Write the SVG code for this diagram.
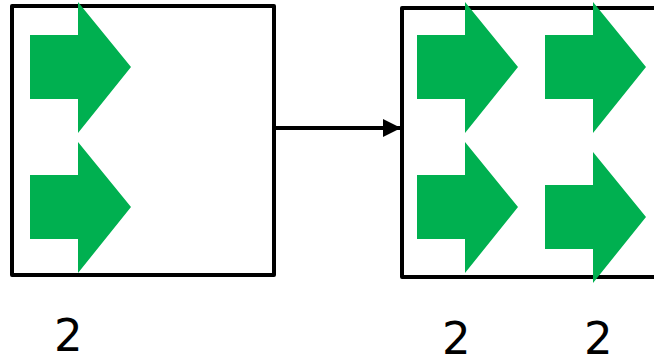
<svg xmlns="http://www.w3.org/2000/svg" xmlns:xlink="http://www.w3.org/1999/xlink" width="654" height="364" viewBox="0 0 654 364">
  <style>
    .box { fill: #ffffff; stroke: #000000; stroke-width: 4; stroke-linejoin: round; }
    .arrow { fill: #00b050; }
    .wire { stroke: #000000; stroke-width: 4; fill: none; }
    .num { font-family: "DejaVu Sans", "Liberation Sans", sans-serif; font-size: 45px; fill: #000000; }
  </style>
  <defs>
    <!-- block arrow: 48px shaft, 53px head, 131px tall -->
    <polygon id="blockArrow" class="arrow" points="0,33 48,33 48,0 101,65 48,131 48,97 0,97"/>
    <marker id="head" markerWidth="18" markerHeight="18" viewBox="0 0 18 18" refX="18" refY="9" orient="auto" markerUnits="userSpaceOnUse">
      <path d="M0,0 L18,9 L0,18 Z" fill="#000000"/>
    </marker>
  </defs>

  <g id="stage-a">
    <rect class="box" x="12" y="6" width="262" height="269"/>
    <use xlink:href="#blockArrow" x="30" y="2"/>
    <use xlink:href="#blockArrow" x="30" y="142"/>
    <text class="num" x="54" y="351">2</text>
  </g>

  <g id="stage-b">
    <rect class="box" x="402" y="8" width="270" height="269"/>
    <use xlink:href="#blockArrow" x="417" y="2"/>
    <use xlink:href="#blockArrow" x="545" y="2"/>
    <use xlink:href="#blockArrow" x="417" y="142"/>
    <use xlink:href="#blockArrow" x="545" y="152"/>
    <text class="num" x="442" y="354">2</text>
    <text class="num" x="584" y="354">2</text>
  </g>

  <g id="connectors">
    <line class="wire" x1="274" y1="128" x2="401" y2="128" marker-end="url(#head)"/>
  </g>
</svg>
